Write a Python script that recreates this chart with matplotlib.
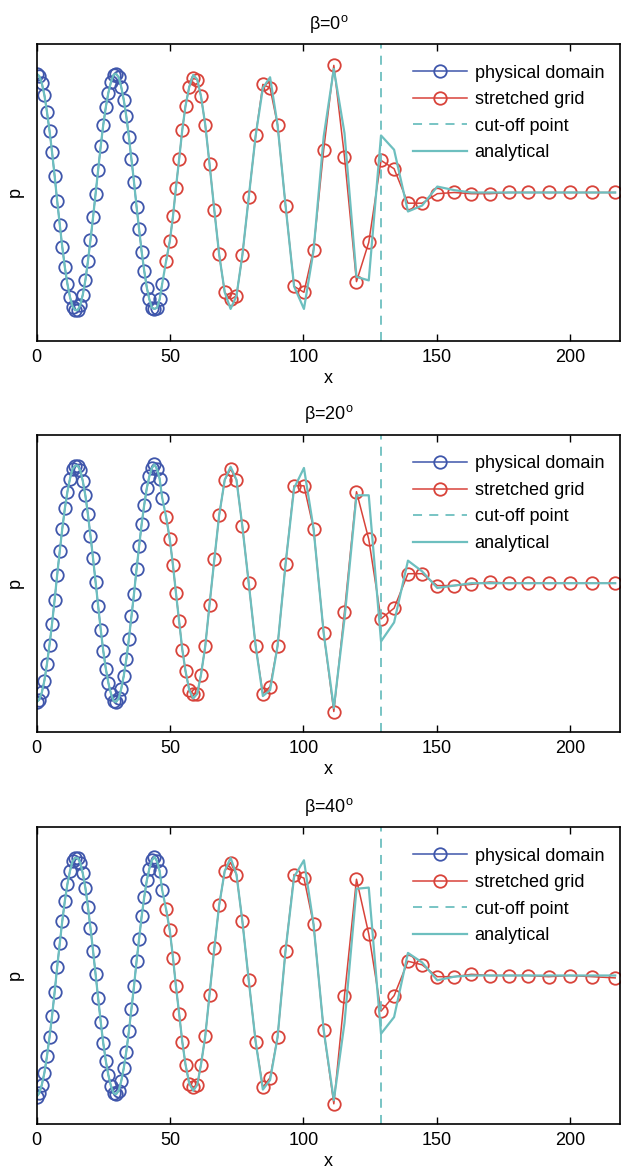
import matplotlib.pyplot as plt
import numpy as np

plt.rcParams['font.family'] = ['Liberation Sans', 'DejaVu Sans']
plt.rcParams['mathtext.fontset'] = 'custom'
plt.rcParams['mathtext.rm'] = 'Liberation Sans'
plt.rcParams['mathtext.it'] = 'Liberation Sans'

# physical domain grid (same for all three angles)
x_phys = [0.0, 0.96, 1.92, 2.88, 3.84, 4.8, 5.76, 6.72, 7.68, 8.64,
          9.6, 10.56, 11.52, 12.48, 13.44, 14.4, 15.36, 16.32, 17.28, 18.24,
          19.2, 20.16, 21.12, 22.08, 23.04, 24.0, 24.96, 25.92, 26.88, 27.84,
          28.8, 29.76, 30.72, 31.68, 32.64, 33.6, 34.56, 35.52, 36.48, 37.44,
          38.4, 39.36, 40.32, 41.28, 42.24, 43.2, 44.16, 45.12, 46.08, 47.04]

# stretched grid
x_str = [48.5, 49.9, 51.1, 52.2, 53.4, 54.6, 55.8, 57.2, 58.7, 60.2,
         61.6, 63.2, 64.8, 66.6, 68.4, 70.5, 72.7, 74.9, 77.1, 79.5,
         82.1, 84.8, 87.5, 90.3, 93.3, 96.5, 100.2, 103.8, 107.6, 111.4,
         115.4, 119.9, 124.5, 129.1, 134.0, 139.2, 144.5, 150.2, 156.5, 163.0,
         169.9, 177.0, 184.3, 191.9, 199.8, 208.2, 216.9]

x_cut = 129

betas = ['0', '20', '40']

# beta = 0
p_phys_0 = [1.00, 0.98, 0.92, 0.82, 0.68, 0.52, 0.34, 0.14, -0.07, -0.27,
            -0.46, -0.63, -0.77, -0.88, -0.96, -0.99, -0.99, -0.95, -0.86, -0.74,
            -0.58, -0.40, -0.21, -0.01, 0.19, 0.39, 0.57, 0.72, 0.84, 0.93,
            0.99, 1.00, 0.97, 0.89, 0.78, 0.64, 0.47, 0.28, 0.09, -0.12,
            -0.31, -0.50, -0.66, -0.80, -0.90, -0.97, -0.98, -0.97, -0.90, -0.77]
p_str_0 = [-0.58, -0.41, -0.20, 0.04, 0.28, 0.53, 0.73, 0.89, 0.96, 0.95,
           0.81, 0.57, 0.24, -0.15, -0.52, -0.84, -0.90, -0.87, -0.53, -0.04,
           0.48, 0.91, 0.88, 0.57, -0.11, -0.79, -0.84, -0.48, 0.36, 1.07,
           0.30, -0.75, -0.42, 0.27, 0.20, -0.09, -0.09, -0.01, 0.00, -0.01,
           -0.01, 0.00, 0.00, 0.00, 0.00, 0.00, 0.00]
p_ana_0 = [-0.58, -0.41, -0.20, 0.04, 0.28, 0.53, 0.73, 0.89, 0.99, 0.95,
           0.81, 0.57, 0.24, -0.15, -0.52, -0.84, -0.98, -0.87, -0.53, -0.04,
           0.48, 0.88, 0.97, 0.57, -0.11, -0.79, -0.98, -0.49, 0.47, 1.04,
           0.50, -0.71, -0.74, 0.48, 0.36, -0.16, -0.11, 0.05, 0.02, 0.00,
           0.00, 0.00, 0.00, 0.00, 0.00, 0.00, 0.00]

# beta = 20
p_phys_20 = [-1.00, -0.98, -0.92, -0.82, -0.68, -0.52, -0.34, -0.14, 0.07, 0.27,
             0.46, 0.63, 0.77, 0.88, 0.96, 0.99, 0.99, 0.95, 0.86, 0.74,
             0.58, 0.40, 0.21, 0.01, -0.19, -0.39, -0.57, -0.72, -0.84, -0.93,
             -0.99, -1.00, -0.97, -0.89, -0.78, -0.64, -0.47, -0.28, -0.09, 0.12,
             0.31, 0.50, 0.66, 0.80, 0.90, 0.97, 1.00, 0.96, 0.88, 0.72]
p_str_20 = [0.56, 0.37, 0.15, -0.08, -0.32, -0.56, -0.74, -0.90, -0.93, -0.93,
            -0.77, -0.53, -0.18, 0.20, 0.57, 0.87, 0.96, 0.87, 0.48, 0.00,
            -0.53, -0.93, -0.87, -0.53, 0.16, 0.82, 0.82, 0.46, -0.42, -1.08,
            -0.24, 0.77, 0.37, -0.30, -0.21, 0.08, 0.08, -0.02, -0.02, -0.01,
            0.01, 0.00, 0.00, 0.00, 0.00, 0.00, 0.00]
p_ana_20 = [0.56, 0.37, 0.15, -0.08, -0.32, -0.56, -0.74, -0.90, -0.97, -0.93,
            -0.77, -0.53, -0.18, 0.20, 0.57, 0.87, 0.98, 0.87, 0.48, 0.00,
            -0.53, -0.95, -0.90, -0.53, 0.16, 0.80, 0.97, 0.46, -0.42, -1.05,
            -0.30, 0.74, 0.74, -0.49, -0.33, 0.19, 0.10, -0.04, -0.02, 0.00,
            0.00, 0.00, 0.00, 0.00, 0.00, 0.00, 0.00]

# beta = 40
p_phys_40 = [-1.02, -0.99, -0.92, -0.82, -0.68, -0.52, -0.34, -0.14, 0.07, 0.27,
             0.46, 0.63, 0.77, 0.88, 0.96, 0.99, 0.99, 0.95, 0.86, 0.74,
             0.58, 0.40, 0.21, 0.01, -0.19, -0.39, -0.57, -0.72, -0.84, -0.93,
             -0.99, -1.00, -0.97, -0.89, -0.78, -0.64, -0.47, -0.28, -0.09, 0.12,
             0.31, 0.50, 0.66, 0.80, 0.90, 0.97, 1.00, 0.96, 0.88, 0.72]
p_str_40 = [0.56, 0.38, 0.15, -0.09, -0.32, -0.56, -0.75, -0.91, -0.94, -0.92,
            -0.75, -0.51, -0.16, 0.23, 0.59, 0.88, 0.95, 0.85, 0.46, -0.04,
            -0.56, -0.94, -0.86, -0.52, 0.21, 0.85, 0.82, 0.43, -0.46, -1.08,
            -0.17, 0.81, 0.35, -0.30, -0.17, 0.12, 0.09, -0.01, -0.01, 0.01,
            0.00, 0.00, 0.00, -0.01, 0.00, -0.01, -0.02]
p_ana_40 = [0.56, 0.38, 0.15, -0.09, -0.32, -0.56, -0.75, -0.91, -0.97, -0.92,
            -0.75, -0.51, -0.16, 0.23, 0.59, 0.88, 0.99, 0.85, 0.46, -0.04,
            -0.56, -0.96, -0.88, -0.52, 0.21, 0.83, 0.97, 0.43, -0.46, -1.05,
            -0.40, 0.73, 0.74, -0.49, -0.35, 0.19, 0.11, -0.04, -0.01, 0.00,
            0.00, 0.00, 0.00, 0.00, 0.00, 0.00, 0.00]

phys = [p_phys_0, p_phys_20, p_phys_40]
strd = [p_str_0, p_str_20, p_str_40]
ana = [p_ana_0, p_ana_20, p_ana_40]

blue = '#3f56ab'
red = '#d8433a'
cyan = '#6dbfbf'
fs = 13

fig = plt.figure(figsize=(6.21, 11.72), dpi=100)
left, width, height = 36.7 / 621, 583.3 / 621, 297 / 1172
bottoms = [1 - 341 / 1172, 1 - 731.7 / 1172, 1 - 1124 / 1172]

for i in range(3):
    ax = fig.add_axes([left, bottoms[i], width, height])
    ax.plot(x_phys, phys[i], '-o', color=blue, lw=1.1, ms=9, mfc='none',
            mew=1.3, label='physical domain')
    ax.plot(x_str, strd[i], '-o', color=red, lw=1.1, ms=9, mfc='none',
            mew=1.3, label='stretched grid')
    ax.axvline(x_cut, color=cyan, ls=(0, (5, 4)), lw=1.3, label='cut-off point')
    ax.plot(x_phys + x_str, phys[i] + ana[i], '-', color=cyan, lw=1.6,
            label='analytical')

    ax.set_xlim(0, 218.7)
    ax.set_ylim(-1.25, 1.25)
    ax.set_xticks([0, 50, 100, 150, 200])
    ax.set_yticks([])
    ax.tick_params(axis='x', direction='in', top=True, length=5, width=1,
                   labelsize=fs, pad=6)
    for s in ax.spines.values():
        s.set_linewidth(1.2)
    ax.set_xlabel('x', fontsize=fs, labelpad=3)
    ax.set_ylabel('p', fontsize=fs, labelpad=9)
    ax.set_title('\u03b2=' + betas[i] + '$^{\\mathrm{o}}$', fontsize=fs, pad=11)
    ax.legend(loc='upper right', frameon=False, fontsize=fs,
              handlelength=3.0, handletextpad=0.4, labelspacing=0.53,
              borderaxespad=0.0, bbox_to_anchor=(0.985, 0.955))

plt.savefig('out.png', dpi=100)
